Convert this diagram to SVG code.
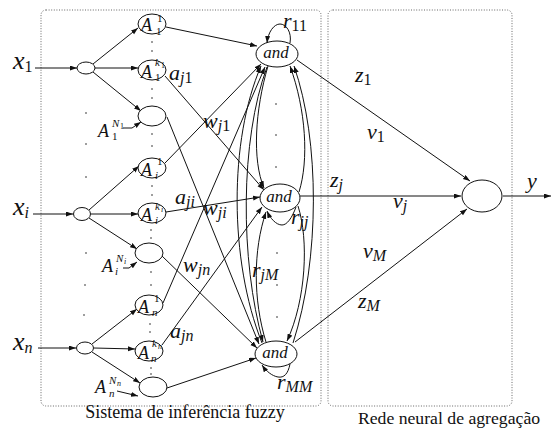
<svg xmlns="http://www.w3.org/2000/svg" width="552" height="430" viewBox="0 0 552 430">
  <style>
    .node { fill: #fff; stroke: #111; stroke-width: 1; }
    .edge { fill: none; stroke: #111; stroke-width: 1; }
    .arr { marker-end: url(#ah); }
    .panel { fill: none; stroke: #666; stroke-width: 1; stroke-dasharray: 1 1.6; }
    .dot { fill: #222; }
    .m { font-family: "Liberation Serif", "Times New Roman", serif; font-style: italic; font-size: 22px; fill: #111; }
    .x { font-size: 26px; }
    .s { font-size: 16px; }
    .A { font-family: "Liberation Serif", serif; font-style: italic; font-size: 18px; fill: #111; }
    .sa { font-family: "Liberation Serif", serif; font-style: italic; font-size: 11px; fill: #111; }
    .sb { font-family: "Liberation Serif", serif; font-style: italic; font-size: 8px; fill: #111; }
    .up { font-style: normal; }
    .and { font-family: "Liberation Serif", serif; font-style: italic; font-size: 17px; fill: #111; text-anchor: middle; }
    .cap { font-family: "Liberation Serif", "Times New Roman", serif; font-size: 18px; fill: #111; text-anchor: middle; }
  </style>
  <defs>
    <marker id="ah" markerUnits="userSpaceOnUse" markerWidth="8" markerHeight="6" refX="7" refY="2.5" orient="auto">
      <path d="M0,0 L7,2.5 L0,5 z" fill="#111"/>
    </marker>
  </defs>

  <!-- dotted panels -->
  <g id="panels">
    <rect class="panel" x="41" y="10" width="280" height="396" rx="5"/>
    <rect class="panel" x="328" y="10" width="184" height="396" rx="5"/>
    <text class="cap" x="185" y="418">Sistema de inferência fuzzy</text>
    <text class="cap" x="449" y="424" style="font-size:17.7px">Rede neural de agregação</text>
  </g>

  <!-- ellipsis dots -->
  <g id="dots">
    <circle class="dot" cx="86" cy="113" r="0.8"/><circle class="dot" cx="86" cy="144" r="0.8"/>
    <circle class="dot" cx="86" cy="177" r="0.8"/><circle class="dot" cx="86" cy="253" r="0.8"/>
    <circle class="dot" cx="85" cy="285" r="0.8"/><circle class="dot" cx="84" cy="315" r="0.8"/>
    <circle class="dot" cx="152" cy="42" r="0.8"/><circle class="dot" cx="152" cy="51" r="0.8"/>
    <circle class="dot" cx="152" cy="89" r="0.8"/><circle class="dot" cx="152" cy="98" r="0.8"/>
    <circle class="dot" cx="152" cy="134" r="0.8"/><circle class="dot" cx="152" cy="146" r="0.8"/>
    <circle class="dot" cx="152" cy="186" r="0.8"/><circle class="dot" cx="152" cy="195" r="0.8"/>
    <circle class="dot" cx="151" cy="230" r="0.8"/><circle class="dot" cx="151" cy="238" r="0.8"/>
    <circle class="dot" cx="151" cy="272" r="0.8"/><circle class="dot" cx="151" cy="285" r="0.8"/>
    <circle class="dot" cx="150" cy="324" r="0.8"/><circle class="dot" cx="150" cy="332" r="0.8"/>
    <circle class="dot" cx="151" cy="368" r="0.8"/><circle class="dot" cx="151" cy="374" r="0.8"/>
    <circle class="dot" cx="276" cy="104" r="0.8"/><circle class="dot" cx="276" cy="135" r="0.8"/>
    <circle class="dot" cx="276" cy="167" r="0.8"/><circle class="dot" cx="277" cy="253" r="0.8"/>
    <circle class="dot" cx="277" cy="285" r="0.8"/><circle class="dot" cx="277" cy="317" r="0.8"/>
  </g>

  <!-- connectors -->
  <g id="connectors">
    <!-- inputs -->
    <path class="edge arr" d="M35,68 L77,68"/>
    <path class="edge arr" d="M33,214 L73,214"/>
    <path class="edge arr" d="M38,348 L76,348"/>
    <!-- fan-out to membership functions -->
    <path class="edge arr" d="M93,64 L138,28"/>
    <path class="edge arr" d="M95,68 L138,68"/>
    <path class="edge arr" d="M93,72 L141,111"/>
    <path class="edge arr" d="M89,210 L139,166"/>
    <path class="edge arr" d="M91,214 L138,214"/>
    <path class="edge arr" d="M89,218 L137,249"/>
    <path class="edge arr" d="M92,344 L137,309"/>
    <path class="edge arr" d="M94,348 L135,349"/>
    <path class="edge arr" d="M92,352 L140,383"/>
    <!-- label pointers -->
    <path class="edge arr" d="M123,128 L132,128 L141,122"/>
    <path class="edge arr" d="M123,268 L129,268 L137,262"/>
    <path class="edge arr" d="M117,391 L138,396"/>
    <!-- membership to rule nodes -->
    <path class="edge arr" d="M166,27 L257,46"/>
    <path class="edge arr" d="M165,76 L264,190"/>
    <path class="edge arr" d="M167,117 L259,344"/>
    <path class="edge arr" d="M165,163 L261,64"/>
    <path class="edge arr" d="M166,212 L260,197"/>
    <path class="edge arr" d="M162,256 L257,348"/>
    <path class="edge arr" d="M163,303 L265,67"/>
    <path class="edge arr" d="M162,345 L262,207"/>
    <path class="edge arr" d="M167,388 L256,358"/>
    <!-- recurrent links between rule nodes -->
    <path class="edge arr" d="M268,66 C255,110 252,160 264,188"/>
    <path class="edge arr" d="M299,192 C309,160 306,110 290,66"/>
    <path class="edge arr" d="M266,342 C253,300 253,250 266,212"/>
    <path class="edge arr" d="M298,206 C309,240 306,300 287,341"/>
    <path class="edge arr" d="M262,343 C229,260 229,140 261,66"/>
    <path class="edge arr" d="M267,67 C240,140 240,260 263,342"/>
    <path class="edge arr" d="M293,343 C320,260 320,140 294,66"/>
    <!-- self loops -->
    <path class="edge arr" d="M290,43 C292,32 286,24 280,24 C274,24 268,32 267,43"/>
    <path class="edge arr" d="M296,207 C292,218 287,225 282,225 C276,225 270,218 267,211"/>
    <path class="edge arr" d="M290,364 C288,374 284,378 278,377 C272,376 266,371 262,365"/>
    <!-- rule nodes to aggregation -->
    <path class="edge arr" d="M297,60 L470,181"/>
    <path class="edge arr" d="M300,196 L461,196"/>
    <path class="edge arr" d="M295,342 L467,209"/>
    <path class="edge arr" d="M503,196 L551,196"/>
  </g>

  <!-- input nodes -->
  <g id="in1"><ellipse class="node" cx="86" cy="68" rx="9" ry="6"/></g>
  <g id="ini"><ellipse class="node" cx="82" cy="214" rx="8.5" ry="6.5"/></g>
  <g id="inn"><ellipse class="node" cx="85" cy="348" rx="8.5" ry="6"/></g>

  <!-- membership function nodes -->
  <g id="A1_1">
    <ellipse class="node" cx="152" cy="24" rx="14" ry="10"/>
    <text class="A" x="141" y="31">A</text><text class="sa up" x="157" y="22">1</text><text class="sa up" x="156" y="35">1</text>
  </g>
  <g id="A1_k">
    <ellipse class="node" cx="152" cy="70" rx="14" ry="10"/>
    <text class="A" x="141" y="78">A</text><text class="sa" x="155" y="66">k</text><text class="sb up" x="161" y="68">1</text><text class="sa up" x="155" y="81">1</text>
  </g>
  <g id="A1_N">
    <ellipse class="node" cx="152" cy="116" rx="14" ry="10"/>
    <text class="A" x="98" y="137">A</text><text class="sa" x="112" y="127">N</text><text class="sb up" x="120" y="129">1</text><text class="sa up" x="112" y="140">1</text>
  </g>
  <g id="Ai_1">
    <ellipse class="node" cx="152" cy="168" rx="14" ry="10"/>
    <text class="A" x="141" y="176">A</text><text class="sa up" x="157" y="165">1</text><text class="sa" x="155" y="179">i</text>
  </g>
  <g id="Ai_k">
    <ellipse class="node" cx="152" cy="213" rx="14" ry="10"/>
    <text class="A" x="141" y="221">A</text><text class="sa" x="155" y="210">k</text><text class="sb" x="161" y="212">i</text><text class="sa" x="155" y="224">i</text>
  </g>
  <g id="Ai_N">
    <ellipse class="node" cx="149" cy="253" rx="14" ry="10"/>
    <text class="A" x="102" y="272">A</text><text class="sa" x="116" y="262">N</text><text class="sb" x="124" y="264">i</text><text class="sa" x="115" y="275">i</text>
  </g>
  <g id="An_1">
    <ellipse class="node" cx="149" cy="305" rx="14" ry="10"/>
    <text class="A" x="138" y="313">A</text><text class="sa up" x="154" y="302">1</text><text class="sa" x="152" y="316">n</text>
  </g>
  <g id="An_k">
    <ellipse class="node" cx="149" cy="351" rx="14" ry="10"/>
    <text class="A" x="138" y="359">A</text><text class="sa" x="152" y="347">k</text><text class="sb" x="158" y="349">n</text><text class="sa" x="151" y="362">n</text>
  </g>
  <g id="An_N">
    <ellipse class="node" cx="153" cy="387" rx="14" ry="10"/>
    <text class="A" x="95" y="393">A</text><text class="sa" x="109" y="384">N</text><text class="sb" x="117" y="386">n</text><text class="sa" x="109" y="397">n</text>
  </g>

  <!-- rule nodes -->
  <g id="and1">
    <ellipse class="node" cx="277" cy="54" rx="21" ry="13"/>
    <text class="and" x="276" y="58">and</text>
  </g>
  <g id="andj">
    <ellipse class="node" cx="280" cy="198" rx="20" ry="14"/>
    <text class="and" x="279" y="202">and</text>
  </g>
  <g id="andM">
    <ellipse class="node" cx="276" cy="354" rx="21" ry="13"/>
    <text class="and" x="275" y="358">and</text>
  </g>

  <!-- aggregation node -->
  <g id="out"><ellipse class="node" cx="482" cy="196" rx="20" ry="16"/></g>

  <!-- labels -->
  <g id="labels">
    <text class="m x" x="13" y="69">x<tspan class="s up" dy="3">1</tspan></text>
    <text class="m x" x="13" y="215">x<tspan class="s" dy="3">i</tspan></text>
    <text class="m x" x="13" y="350">x<tspan class="s" dy="3">n</tspan></text>
    <text class="m" x="169" y="80">a<tspan class="s" dy="3">j</tspan><tspan class="s up">1</tspan></text>
    <text class="m" x="203" y="128">w<tspan class="s" dy="3">j</tspan><tspan class="s up">1</tspan></text>
    <text class="m" x="175" y="204">a<tspan class="s" dy="3">ji</tspan></text>
    <text class="m" x="203" y="215">w<tspan class="s" dy="3">ji</tspan></text>
    <text class="m" x="183" y="272">w<tspan class="s" dy="3">jn</tspan></text>
    <text class="m" x="170" y="338">a<tspan class="s" dy="3">jn</tspan></text>
    <text class="m" x="283" y="28">r<tspan class="s up" dy="3">11</tspan></text>
    <text class="m" x="291" y="224">r<tspan class="s" dy="3">jj</tspan></text>
    <text class="m" x="252" y="277">r<tspan class="s" dy="3">jM</tspan></text>
    <text class="m" x="277" y="389">r<tspan class="s" dy="3">MM</tspan></text>
    <text class="m" x="355" y="82">z<tspan class="s up" dy="3">1</tspan></text>
    <text class="m" x="367" y="139">v<tspan class="s up" dy="3">1</tspan></text>
    <text class="m" x="330" y="187">z<tspan class="s" dy="3">j</tspan></text>
    <text class="m" x="393" y="208">v<tspan class="s" dy="3">j</tspan></text>
    <text class="m" x="363" y="258">v<tspan class="s" dy="3">M</tspan></text>
    <text class="m" x="358" y="308">z<tspan class="s" dy="3">M</tspan></text>
    <text class="m" x="527" y="188">y</text>
  </g>
</svg>
